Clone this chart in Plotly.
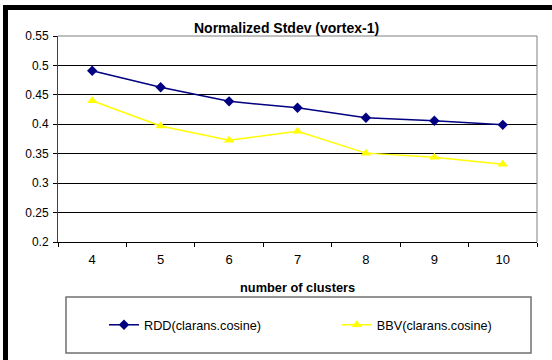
import plotly.graph_objects as go

# Number of clusters (category axis)
clusters = ["4", "5", "6", "7", "8", "9", "10"]

# Normalized standard deviation per clustering run
rdd_values = [0.491, 0.463, 0.439, 0.428, 0.411, 0.406, 0.399]
bbv_values = [0.440, 0.397, 0.373, 0.388, 0.351, 0.344, 0.332]

y_ticks = [0.2, 0.25, 0.3, 0.35, 0.4, 0.45, 0.5, 0.55]
y_tick_text = ["0.2", "0.25", "0.3", "0.35", "0.4", "0.45", "0.5", "0.55"]

FONT = "Arial, Liberation Sans, sans-serif"

fig = go.Figure()
fig.add_trace(go.Scatter(
    x=clusters, y=rdd_values, mode="lines+markers",
    name="RDD(clarans.cosine)", showlegend=True,
    line=dict(color="#000080", width=1.5),
    marker=dict(symbol="diamond", size=8, color="#000080"),
    legend="legend",
))
fig.add_trace(go.Scatter(
    x=clusters, y=bbv_values, mode="lines+markers",
    name="BBV(clarans.cosine)", showlegend=True,
    line=dict(color="#FFFF00", width=1.5),
    marker=dict(symbol="triangle-up", size=9, color="#FFFF00"),
    legend="legend2",
))

shapes = [
    # legend frame
    dict(type="rect", xref="paper", yref="paper",
         x0=0.0167, x1=0.9875, y0=-0.539, y1=-0.267,
         line=dict(color="#707070", width=1.5), fillcolor="rgba(0,0,0,0)"),
    # heavy black frame on top and left edges
    dict(type="rect", xref="paper", yref="paper",
         x0=-0.1148, x1=1.05, y0=1.126, y1=1.1505,
         line=dict(width=0), fillcolor="black"),
    dict(type="rect", xref="paper", yref="paper",
         x0=-0.1148, x1=-0.1044, y0=-0.6, y1=1.1505,
         line=dict(width=0), fillcolor="black"),
    # gray plot-area frame on the top and right sides
    dict(type="line", xref="paper", yref="paper", x0=0, x1=1, y0=1, y1=1,
         line=dict(color="#808080", width=1)),
    dict(type="line", xref="paper", yref="paper", x0=1, x1=1, y0=0, y1=1,
         line=dict(color="#808080", width=1)),
]

annotations = [
    dict(text="<b>Normalized Stdev (vortex-1)</b>", xref="paper", yref="paper",
         x=0.476, y=1.039, xanchor="center", yanchor="middle", showarrow=False,
         font=dict(family=FONT, size=14, color="black")),
    dict(text="<b>number of clusters</b>", xref="paper", yref="paper",
         x=0.501, y=-0.223, xanchor="center", yanchor="middle", showarrow=False,
         font=dict(family=FONT, size=12.8, color="black")),
]

legend_common = dict(
    orientation="h", yanchor="middle", xanchor="left", y=-0.403,
    bgcolor="rgba(0,0,0,0)", borderwidth=0,
    font=dict(family=FONT, size=12.7, color="black"),
)

fig.update_layout(
    width=552, height=360,
    margin=dict(l=58, r=15, t=36, b=118),
    paper_bgcolor="white", plot_bgcolor="white",
    font=dict(family=FONT, size=12, color="black"),
    showlegend=True,
    shapes=shapes, annotations=annotations,
    legend=dict(x=0.096, **legend_common),
    legend2=dict(x=0.582, **legend_common),
    xaxis=dict(
        type="category", range=[-0.5, 6.5], tickson="boundaries",
        ticks="outside", ticklen=4, tickcolor="black",
        showgrid=False, showline=True, linecolor="black", linewidth=1,
        mirror=False, ticklabelstandoff=5,
        tickfont=dict(family=FONT, size=13, color="black"),
    ),
    yaxis=dict(
        range=[0.2, 0.55], tickvals=y_ticks, ticktext=y_tick_text,
        ticks="outside", ticklen=4, tickcolor="black",
        showgrid=True, gridcolor="black", gridwidth=1,
        showline=True, linecolor="#404040", linewidth=1,
        zeroline=False, ticklabelstandoff=2,
        tickfont=dict(family=FONT, size=12, color="black"),
    ),
)

fig.write_html("out.html")
